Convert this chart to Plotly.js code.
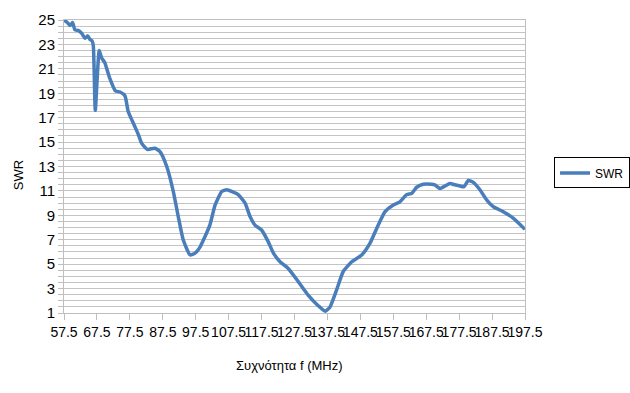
<!DOCTYPE html>
<html>
<head>
<meta charset="utf-8">
<script src="https://cdn.plot.ly/plotly-3.0.1.min.js"></script>
<style>html,body{margin:0;padding:0;background:#fff}#chart{width:630px;height:393px}</style>
</head>
<body>
<div id="chart"></div>
<script>
var freq = [57.5,58.5,59.3,60.1,60.8,61.8,62.9,63.9,64.7,65.4,66.0,66.4,67.0,68.2,68.9,69.9,71.3,73.1,74.5,76.0,77.0,78.8,80.1,81.1,82.8,85.1,86.7,88.7,90.7,92.2,93.7,95.8,97.3,98.8,100.3,101.8,103.4,105.4,106.9,108.9,110.4,112.5,114.0,115.5,117.5,119.5,121.1,123.1,125.6,128.7,131.7,134.7,136.8,138.3,140.3,142.3,144.9,147.9,150.4,152.5,155.0,157.5,159.5,161.6,163.1,164.6,166.6,169.1,170.1,171.7,173.2,174.7,176.2,177.8,179.0,180.3,181.8,183.8,185.9,187.9,190.9,194.0,197.5];
var swr = [25.0,24.8,24.55,24.8,24.2,24.15,23.9,23.5,23.7,23.4,23.3,22.9,17.6,22.5,21.9,21.5,20.3,19.2,19.1,18.8,17.5,16.4,15.6,14.9,14.4,14.5,14.2,13.0,10.95,8.9,7.0,5.75,5.9,6.4,7.25,8.2,9.85,10.95,11.1,10.9,10.7,10.0,8.9,8.2,7.8,6.85,5.9,5.2,4.65,3.55,2.45,1.6,1.15,1.5,2.9,4.4,5.2,5.75,6.7,7.95,9.3,9.85,10.1,10.7,10.8,11.3,11.55,11.55,11.5,11.2,11.4,11.6,11.5,11.4,11.35,11.85,11.7,11.1,10.25,9.7,9.3,8.75,7.85];
var xTicks = [57.5,67.5,77.5,87.5,97.5,107.5,117.5,127.5,137.5,147.5,157.5,167.5,177.5,187.5,197.5];
var yTicks = [1,3,5,7,9,11,13,15,17,19,21,23,25];
var seriesName = 'SWR';
var xTitle = 'Συχνότητα f (MHz)';
var yTitle = 'SWR';

var fam = 'Arial, "Liberation Sans", sans-serif';
var trace = {
  x: freq, y: swr, type: 'scatter', mode: 'lines', name: seriesName,
  line: {color: '#4a7ebb', width: 3.5, shape: 'spline', smoothing: 0.5},
  cliponaxis: false
};
var layout = {
  width: 630, height: 393,
  margin: {l: 64, r: 105, t: 20, b: 80, autoexpand: false},
  paper_bgcolor: '#fff', plot_bgcolor: '#fff',
  font: {family: fam, size: 14, color: '#000'},
  showlegend: true,
  legend: {x: 1.063, xanchor: 'left', y: 0.478, yanchor: 'middle',
    bordercolor: '#000', borderwidth: 1, font: {family: fam, size: 12}, itemwidth: 30,
    tracegroupgap: 0},
  xaxis: {range: [57.5, 197.5], tickmode: 'array', tickvals: xTicks, ticktext: xTicks.map(function(v){return v.toFixed(1);}),
    tickangle: 0, showgrid: false, zeroline: false, showline: true, linecolor: '#bfbfbf', linewidth: 1, mirror: true,
    ticks: 'outside', ticklen: 6, tickcolor: '#bfbfbf', tickfont: {family: fam, size: 14}},
  yaxis: {range: [1, 25], tickmode: 'array', tickvals: yTicks, showgrid: true, gridcolor: '#c4c4c4', gridwidth: 1,
    zeroline: false, showline: true, linecolor: '#bfbfbf', linewidth: 1, mirror: true,
    ticks: 'outside', ticklen: 5, tickcolor: '#bfbfbf', tickfont: {family: fam, size: 15},
    minor: {dtick: 0.5, tick0: 1, showgrid: true, gridcolor: '#c4c4c4', gridwidth: 1, ticks: 'outside', ticklen: 5, tickcolor: '#bfbfbf'}},
  annotations: [
    {text: xTitle, xref: 'paper', yref: 'paper', x: 0.49, y: -0.18, xanchor: 'center', yanchor: 'middle',
      showarrow: false, font: {family: fam, size: 13}},
    {text: yTitle, xref: 'paper', yref: 'paper', x: 0, xshift: -46, y: 0.47, xanchor: 'center', yanchor: 'middle',
      textangle: -90, showarrow: false, font: {family: fam, size: 13}}
  ]
};
Plotly.newPlot('chart', [trace], layout, {displayModeBar: false, staticPlot: true});
</script>
</body>
</html>
